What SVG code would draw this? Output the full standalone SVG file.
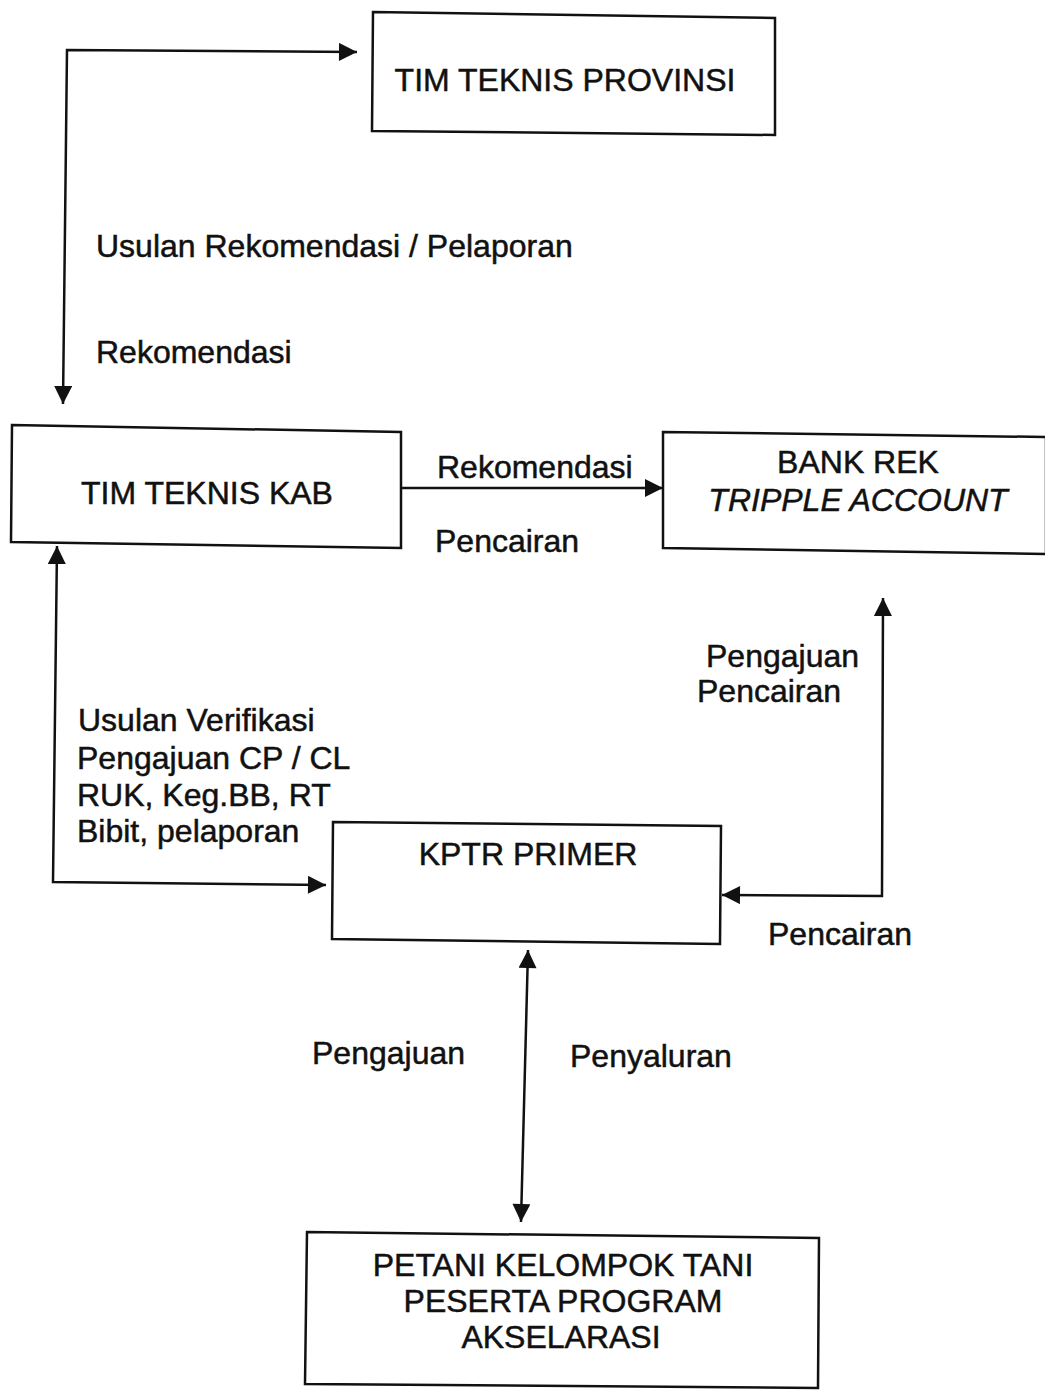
<svg xmlns="http://www.w3.org/2000/svg" width="1045" height="1390" viewBox="0 0 1045 1390">
<style>
.box{fill:none;stroke:#111;stroke-width:2.5}
.ln{fill:none;stroke:#111;stroke-width:2.5}
text{font-family:"Liberation Sans",Arial,sans-serif;font-size:32px;fill:#111;stroke:#111;stroke-width:0.5}
.c{text-anchor:middle}
</style>
<defs>
<marker id="a" viewBox="0 0 10 10" refX="10" refY="5" markerWidth="20" markerHeight="18" markerUnits="userSpaceOnUse" orient="auto-start-reverse">
<path d="M0,0 L10,5 L0,10 z" fill="#111"/>
</marker>
</defs>
<rect width="1045" height="1390" fill="#fff"/>
<g id="connectors">
<path class="ln" d="M63,404 L67,50 L357,52" marker-start="url(#a)" marker-end="url(#a)"/>
<path class="ln" d="M401,488 L663,488" marker-end="url(#a)"/>
<path class="ln" d="M57,546 L53,882 L326,885" marker-start="url(#a)" marker-end="url(#a)"/>
<path class="ln" d="M883,598 L882,896 L722,895" marker-start="url(#a)" marker-end="url(#a)"/>
<path class="ln" d="M528,950 L521,1222" marker-start="url(#a)" marker-end="url(#a)"/>
</g>
<g id="provinsi">
<path class="box" d="M373,12 L775,18 L775,135 L372,131 z"/>
<text x="565" y="91" class="c">TIM TEKNIS PROVINSI</text>
</g>
<g id="kab">
<path class="box" d="M12,425 L401,432 L401,548 L11,542 z"/>
<text x="207" y="504" class="c">TIM TEKNIS KAB</text>
</g>
<g id="bank">
<path class="box" d="M663,432 L1046,437 L1046,554 L663,548 z"/>
<text x="858" y="473" class="c">BANK REK</text>
<text x="858" y="511" class="c" font-style="italic">TRIPPLE ACCOUNT</text>
</g>
<g id="kptr">
<path class="box" d="M333,822 L721,826 L720,944 L332,939 z"/>
<text x="528" y="865" class="c">KPTR PRIMER</text>
</g>
<g id="petani">
<path class="box" d="M307,1232 L819,1238 L818,1388 L305,1384 z"/>
<text x="563" y="1276" class="c">PETANI KELOMPOK TANI</text>
<text x="563" y="1312" class="c">PESERTA PROGRAM</text>
<text x="561" y="1348" class="c">AKSELARASI</text>
</g>
<g id="labels">
<text x="96" y="257">Usulan Rekomendasi / Pelaporan</text>
<text x="96" y="363">Rekomendasi</text>
<text x="437" y="478">Rekomendasi</text>
<text x="435" y="552">Pencairan</text>
<text x="706" y="667">Pengajuan</text>
<text x="697" y="702">Pencairan</text>
<text x="78" y="731">Usulan Verifikasi</text>
<text x="77" y="769">Pengajuan CP / CL</text>
<text x="77" y="806">RUK, Keg.BB, RT</text>
<text x="77" y="842">Bibit, pelaporan</text>
<text x="768" y="945">Pencairan</text>
<text x="312" y="1064">Pengajuan</text>
<text x="570" y="1067">Penyaluran</text>
</g>
</svg>
